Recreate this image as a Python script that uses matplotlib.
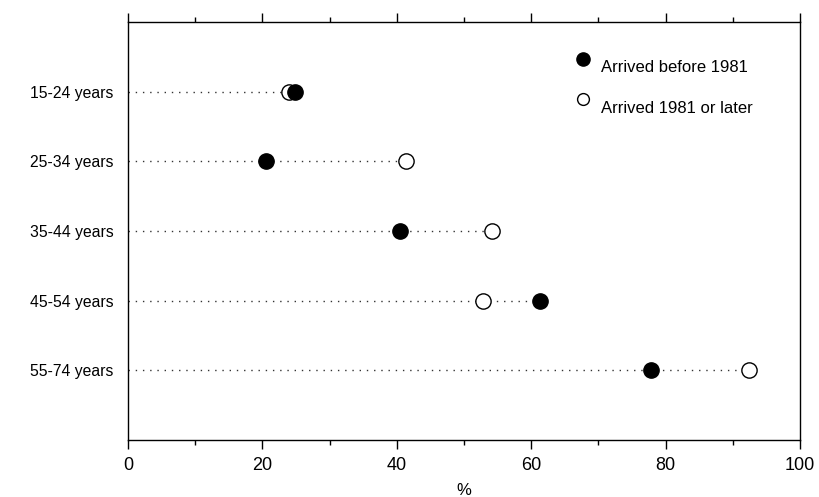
import matplotlib
matplotlib.use("Agg")
import matplotlib.pyplot as plt
from matplotlib.ticker import MultipleLocator

plt.rcParams['font.family'] = ['Liberation Sans', 'DejaVu Sans']

categories = ["15-24 years", "25-34 years", "35-44 years", "45-54 years", "55-74 years"]
before_1981 = [24.9, 20.5, 40.5, 61.3, 77.8]
after_1981 = [23.9, 41.3, 54.2, 52.9, 92.4]
legend_labels = ["Arrived before 1981", "Arrived 1981 or later"]

W, H = 820, 497
fig = plt.figure(figsize=(W/100, H/100), dpi=100)
ax = fig.add_axes([128/W, 1-440/H, 672/W, 418/H])

ypos = list(range(1, len(categories) + 1))
for y, b, a in zip(ypos, before_1981, after_1981):
    ax.plot([0, max(a, b)], [y, y], color='#333333', lw=1.0, linestyle=(0, (1, 4.2)), zorder=1)
ax.plot(before_1981, ypos, 'o', ms=11, mfc='black', mec='black', mew=1, ls='none', zorder=3)
ax.plot(after_1981, ypos, 'o', ms=11, mfc='white', mec='black', mew=1, ls='none', zorder=2)

ax.set_xlim(0, 100)
ax.set_ylim(6, 0)
ax.set_yticks(ypos)
ax.set_yticklabels(categories, fontsize=11.3)
ax.tick_params(axis='y', length=0, pad=10.5)
ax.xaxis.set_major_locator(MultipleLocator(20))
ax.xaxis.set_minor_locator(MultipleLocator(10))
ax.tick_params(axis='x', which='major', length=6.5, width=1, direction='out', top=True, labelsize=13, pad=5.5)
ax.tick_params(axis='x', which='minor', length=3.5, width=1, direction='out', top=True)
for s in ax.spines.values():
    s.set_linewidth(1)

fig.text(464/W, 1-483/H, '%', fontsize=12, ha='center', va='top')

# legend
ft = fig.transFigure
ax.plot([583/W], [1-59/H], 'o', ms=9.5, mfc='black', mec='black', transform=ft, clip_on=False)
ax.plot([583/W], [1-99/H], 'o', ms=8.5, mfc='white', mec='black', mew=1, transform=ft, clip_on=False)
fig.text(601/W, 1-72/H, legend_labels[0], fontsize=12, ha='left', va='baseline')
fig.text(601/W, 1-113/H, legend_labels[1], fontsize=12, ha='left', va='baseline')

fig.savefig('out.png', dpi=100)
